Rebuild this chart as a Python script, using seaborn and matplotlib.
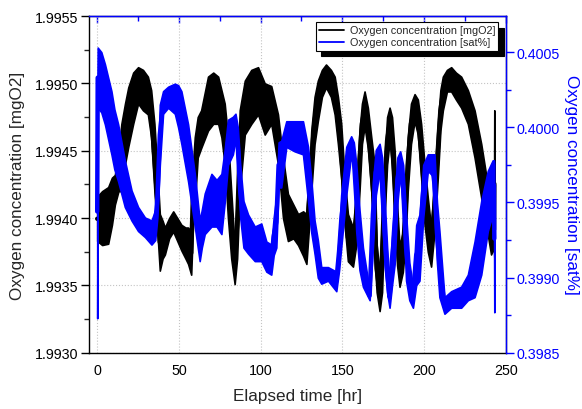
import numpy as np
import pandas as pd
import matplotlib
matplotlib.use("Agg")
import matplotlib.pyplot as plt
import seaborn as sns
from matplotlib.ticker import MultipleLocator

# ── data (band low / high per time) ──────────────────────────────────────

mgo2_time = [0.0, 3, 6.7, 9, 10.8, 13, 14.8, 17, 19, 22, 25, 28, 31, 33, 35, 36.8, 38.3, 40,
             41.4, 44, 46.5, 49, 51.5, 54, 55.6, 57.5, 58.6, 59.7, 61.5, 63.6, 67.8, 71, 74,
             76, 78, 80, 82, 84.1, 85.6, 87.2, 90.3, 94.3, 98.4, 102.5, 106.5, 110.6, 112.2,
             113.7, 116.7, 120, 122.9, 126, 128, 130, 131, 133, 135, 137.5, 140, 143, 145.3,
             147.3, 149.3, 151.4, 153.4, 156.5, 158.5, 160.5, 162, 163.6, 165.6, 167.7, 169.7,
             171, 172.8, 174.3, 175.8, 177.4, 178.9, 180.4, 182, 183.5, 185, 187, 188.5, 190,
             192, 194.2, 196.2, 198.2, 200.3, 202.3, 204.3, 206.4, 208.4, 210, 211.5, 214,
             216.6, 219.5, 222.7, 226.8, 230.9, 235, 238, 241, 242.8, 243]
mgo2_low = [1.99383, 1.99380, 1.99381, 1.99395, 1.99410, 1.99420, 1.99420, 1.99440, 1.99453,
            1.99470, 1.99485, 1.99480, 1.99477, 1.99460, 1.99420, 1.99390, 1.99361, 1.99370,
            1.99373, 1.99385, 1.99390, 1.99383, 1.99376, 1.99370, 1.99366, 1.99358, 1.99395,
            1.99410, 1.99445, 1.99452, 1.99465, 1.99470, 1.99470, 1.99460, 1.99440, 1.99400,
            1.99370, 1.99351, 1.99370, 1.99420, 1.99462, 1.99470, 1.99477, 1.99462, 1.99470,
            1.99440, 1.99420, 1.99400, 1.99383, 1.99385, 1.99380, 1.99372, 1.99366, 1.99400,
            1.99420, 1.99455, 1.99472, 1.99490, 1.99497, 1.99490, 1.99477, 1.99455, 1.99430,
            1.99395, 1.99368, 1.99364, 1.99380, 1.99420, 1.99455, 1.99468, 1.99452, 1.99420,
            1.99370, 1.99345, 1.99331, 1.99345, 1.99400, 1.99440, 1.99457, 1.99440, 1.99400,
            1.99365, 1.99349, 1.99360, 1.99380, 1.99420, 1.99455, 1.99472, 1.99462, 1.99430,
            1.99395, 1.99375, 1.99364, 1.99390, 1.99430, 1.99465, 1.99480, 1.99494, 1.99494,
            1.99488, 1.99482, 1.99470, 1.99445, 1.99415, 1.99395, 1.99373, 1.99378, 1.99371]
mgo2_high = [1.99416, 1.99420, 1.99423, 1.99430, 1.99432, 1.99450, 1.99470, 1.99485, 1.99497,
             1.99508, 1.99512, 1.99510, 1.99505, 1.99495, 1.99470, 1.99435, 1.99403, 1.99398,
             1.99393, 1.99400, 1.99405, 1.99400, 1.99395, 1.99393, 1.99393, 1.99390, 1.99440,
             1.99460, 1.99475, 1.99480, 1.99505, 1.99508, 1.99505, 1.99495, 1.99485, 1.99460,
             1.99420, 1.99379, 1.99420, 1.99480, 1.99502, 1.99510, 1.99512, 1.99500, 1.99498,
             1.99477, 1.99460, 1.99445, 1.99418, 1.99410, 1.99403, 1.99405, 1.99403, 1.99440,
             1.99465, 1.99490, 1.99502, 1.99510, 1.99514, 1.99510, 1.99505, 1.99490, 1.99470,
             1.99430, 1.99403, 1.99393, 1.99420, 1.99465, 1.99485, 1.99494, 1.99482, 1.99460,
             1.99440, 1.99380, 1.99359, 1.99400, 1.99445, 1.99475, 1.99482, 1.99475, 1.99450,
             1.99410, 1.99379, 1.99390, 1.99425, 1.99460, 1.99485, 1.99492, 1.99488, 1.99470,
             1.99440, 1.99415, 1.99393, 1.99430, 1.99470, 1.99495, 1.99505, 1.99510, 1.99512,
             1.99508, 1.99505, 1.99495, 1.99480, 1.99455, 1.99432, 1.99403, 1.99405, 1.99480]

sat_time = [0.0, 0.3, 2.5, 4.7, 8.7, 10.5, 12.8, 16.9, 21, 25, 29.2, 33.2, 35.5, 36.8, 38.3,
            40.3, 43.4, 47.5, 49.5, 51.5, 55.6, 59.7, 62.7, 64, 65.8, 69.9, 73, 76, 78, 80, 83,
            84.6, 86, 87.5, 89.5, 92.3, 96.4, 100.4, 103.5, 106.5, 108, 109.6, 111, 112.6,
            115.7, 120.8, 125.9, 129, 131, 133, 135, 137.1, 141.2, 146.3, 148, 149.3, 152.4,
            155.4, 157, 158.5, 160.5, 162.6, 166.7, 168.7, 170.5, 172.8, 174.3, 175.8, 177.4,
            178.9, 180.4, 182, 183.7, 185.4, 187.2, 189, 191, 193.2, 195.2, 197.2, 199.5,
            202.3, 205, 206.4, 207.9, 209.4, 212.5, 216.6, 222.7, 226.8, 230.9, 235, 239, 242,
            242.8, 243]
sat_low = [0.39873, 0.40013, 0.40010, 0.40002, 0.39982, 0.39972, 0.39964, 0.39947, 0.39938,
           0.39931, 0.39927, 0.39922, 0.39925, 0.39940, 0.39975, 0.40009, 0.40013, 0.40009,
           0.40000, 0.39989, 0.39964, 0.39934, 0.39911, 0.39920, 0.39929, 0.39934, 0.39934,
           0.39929, 0.39950, 0.39975, 0.39982, 0.39992, 0.39975, 0.39940, 0.39920, 0.39916,
           0.39911, 0.39911, 0.39904, 0.39902, 0.39915, 0.39920, 0.39960, 0.39960, 0.39987,
           0.39984, 0.39982, 0.39951, 0.39930, 0.39916, 0.39900, 0.39896, 0.39898, 0.39891,
           0.39905, 0.39920, 0.39955, 0.39982, 0.39970, 0.39931, 0.39905, 0.39894, 0.39885,
           0.39920, 0.39955, 0.39971, 0.39945, 0.39909, 0.39890, 0.39880, 0.39895, 0.39909,
           0.39950, 0.39969, 0.39945, 0.39898, 0.39885, 0.39880, 0.39895, 0.39898, 0.39940,
           0.39971, 0.39968, 0.39942, 0.39910, 0.39887, 0.39876, 0.39880, 0.39880, 0.39885,
           0.39887, 0.39902, 0.39931, 0.39942, 0.39945, 0.39877]
sat_high = [0.40015, 0.40053, 0.40050, 0.40042, 0.40024, 0.40012, 0.40002, 0.39978, 0.39958,
            0.39947, 0.39940, 0.39938, 0.39945, 0.39965, 0.40015, 0.40024, 0.40027, 0.40029,
            0.40028, 0.40024, 0.40002, 0.39969, 0.39938, 0.39945, 0.39956, 0.39969, 0.39965,
            0.39969, 0.39985, 0.40005, 0.40007, 0.40009, 0.40000, 0.39975, 0.39951, 0.39942,
            0.39934, 0.39936, 0.39924, 0.39922, 0.39940, 0.39954, 0.39990, 0.39991, 0.40004,
            0.40004, 0.40004, 0.39987, 0.39965, 0.39938, 0.39925, 0.39907, 0.39907, 0.39904,
            0.39930, 0.39955, 0.39987, 0.39994, 0.39990, 0.39976, 0.39945, 0.39920, 0.39891,
            0.39964, 0.39985, 0.39989, 0.39980, 0.39954, 0.39920, 0.39894, 0.39930, 0.39954,
            0.39980, 0.39984, 0.39975, 0.39942, 0.39910, 0.39894, 0.39935, 0.39942, 0.39975,
            0.39982, 0.39982, 0.39982, 0.39950, 0.39931, 0.39887, 0.39891, 0.39894, 0.39902,
            0.39924, 0.39951, 0.39971, 0.39978, 0.39978, 0.39975]

mgo2_label = "Oxygen concentration [mgO2]"
sat_label = "Oxygen concentration [sat%]"
x_label = "Elapsed time [hr]"

BLUE = "#0000ff"


def band_frame(t, lo, hi):
    # two rows per time step so seaborn can draw the low-high band
    return pd.DataFrame({"t": list(t) + list(t), "v": list(lo) + list(hi)})


def envelope(v):
    return (v.min(), v.max())


# ── plot ─────────────────────────────────────────────────────────────────

sns.set_style("white")
plt.rcParams["font.family"] = ["Liberation Sans", "DejaVu Sans"]

fig, ax = plt.subplots(figsize=(5.82, 4.10), dpi=100)
fig.subplots_adjust(left=0.153, right=0.869, bottom=0.137, top=0.9585)
ax2 = ax.twinx()

# thick centre line keeps the steep parts of the noisy trace as wide as the reference
sns.lineplot(data=band_frame(mgo2_time, mgo2_low, mgo2_high), x="t", y="v", ax=ax,
             color="black", linewidth=3.2, errorbar=envelope,
             err_kws={"alpha": 1, "linewidth": 1.2, "edgecolor": "black"}, label=mgo2_label)
sns.lineplot(data=band_frame(sat_time, sat_low, sat_high), x="t", y="v", ax=ax2,
             color=BLUE, linewidth=3.2, errorbar=envelope,
             err_kws={"alpha": 1, "linewidth": 1.2, "edgecolor": BLUE}, label=sat_label)

ax.set_xlim(-5, 250)
ax.set_ylim(1.9930, 1.9955)
ax2.set_ylim(0.3985, 0.40074)

ax.xaxis.set_major_locator(MultipleLocator(50))
ax.xaxis.set_minor_locator(MultipleLocator(25))
ax.yaxis.set_major_locator(MultipleLocator(0.0005))
ax.yaxis.set_minor_locator(MultipleLocator(0.00025))
ax2.yaxis.set_major_locator(MultipleLocator(0.0005))
ax2.yaxis.set_minor_locator(MultipleLocator(0.00025))
ax.yaxis.set_major_formatter(matplotlib.ticker.FormatStrFormatter("%.4f"))
ax2.yaxis.set_major_formatter(matplotlib.ticker.FormatStrFormatter("%.4f"))

ax.grid(True, which="major", color="#c4c4c4", linestyle=":", linewidth=0.8)

ax.tick_params(which="major", direction="out", length=6, width=1, labelsize=10.3, pad=1.5,
               colors="black")
ax.tick_params(which="minor", direction="out", length=3.5, width=1)
ax2.tick_params(which="major", direction="out", length=6, width=1, labelsize=10.3, pad=1.5,
                colors=BLUE)
ax2.tick_params(which="minor", direction="out", length=3.5, width=1, colors=BLUE)

# top axis: blue inward ticks, no labels
top = ax.secondary_xaxis("top")
top.xaxis.set_major_locator(MultipleLocator(50))
top.xaxis.set_minor_locator(MultipleLocator(25))
top.tick_params(which="major", direction="in", length=5, width=1, colors=BLUE, labeltop=False)
top.tick_params(which="minor", direction="in", length=3.5, width=1, colors=BLUE)
top.spines["top"].set_color(BLUE)

for a in (ax, ax2):
    for s in a.spines.values():
        s.set_linewidth(1)
ax.spines["left"].set_color("black")
ax.spines["bottom"].set_color("black")
ax2.spines["right"].set_color(BLUE)
ax2.spines["top"].set_color(BLUE)
ax2.spines["left"].set_visible(False)
ax2.spines["bottom"].set_visible(False)

ax.set_xlabel(x_label, fontsize=12.3, labelpad=8)
ax.set_ylabel(mgo2_label, fontsize=12.3, labelpad=7)
ax2.set_ylabel(sat_label, fontsize=12.3, color=BLUE, rotation=270, labelpad=14)

h1, l1 = ax.get_legend_handles_labels()
h2, l2 = ax2.get_legend_handles_labels()
if ax.get_legend() is not None:
    ax.get_legend().remove()
leg = ax2.legend(h1[:1] + h2[:1], [mgo2_label, sat_label], loc="upper right",
                 bbox_to_anchor=(0.982, 0.982), borderaxespad=0, fontsize=7.8,
                 frameon=True, fancybox=False, edgecolor="black", framealpha=1,
                 shadow={"color": "black", "alpha": 1, "ox": 4, "oy": -4},
                 handlelength=2.3, labelspacing=0.2, borderpad=0.3, handletextpad=0.5)
leg.get_frame().set_linewidth(0.8)
for ln in leg.get_lines():
    ln.set_linewidth(1.3)

fig.savefig("out.png", dpi=100)
